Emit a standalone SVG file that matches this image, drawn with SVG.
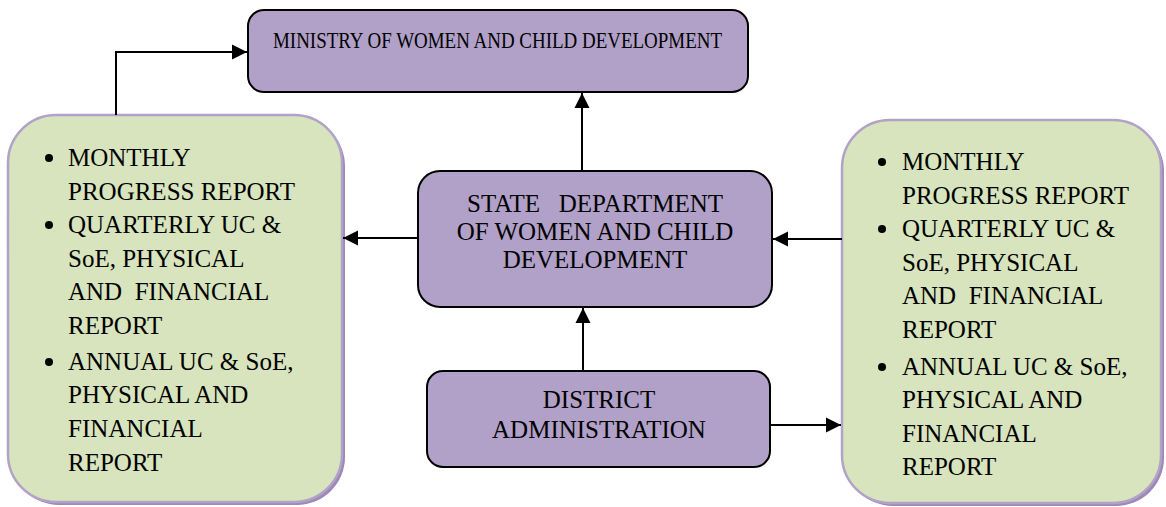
<svg xmlns="http://www.w3.org/2000/svg" width="1166" height="507" viewBox="0 0 1166 507">
<style>
.purple{fill:#b1a0c7;stroke:#000;stroke-width:2}
.green{fill:#d7e4bd;stroke:#b3a2c7;stroke-width:2.5}
.shadow{fill:#9c89b8}
.t{font-family:"Liberation Serif","Times New Roman",serif;font-size:25px;fill:#000;white-space:pre}
.m{font-size:24px}
.c{text-anchor:middle}
.conn{fill:none;stroke:#000;stroke-width:2}
.dot{fill:#000}
</style>
<defs>
<marker id="ah" markerUnits="userSpaceOnUse" markerWidth="16" markerHeight="16" viewBox="0 0 16 16" refX="15" refY="8" orient="auto">
<path d="M0,0.5 L15,8 L0,15.5 Z" fill="#000"/>
</marker>
</defs>
<rect width="1166" height="507" fill="#fff"/>
<g id="ministry">
<rect class="purple" x="248" y="10" width="500" height="82" rx="16"/>
<text class="t m" x="273" y="48" textLength="449" lengthAdjust="spacingAndGlyphs">MINISTRY OF WOMEN AND CHILD DEVELOPMENT</text>
</g>
<g id="left-reports">
<rect class="shadow" x="11" y="118" width="334" height="387" rx="48"/>
<rect class="green" x="8" y="115" width="334" height="387" rx="48"/>
<circle class="dot" cx="49" cy="158" r="4"/>
<circle class="dot" cx="49" cy="225" r="4"/>
<circle class="dot" cx="49" cy="362" r="4"/>
<text class="t" x="68" y="166">MONTHLY</text>
<text class="t" x="68" y="200">PROGRESS REPORT</text>
<text class="t" x="68" y="233">QUARTERLY UC &amp;</text>
<text class="t" x="68" y="267">SoE, PHYSICAL</text>
<text class="t" x="68" y="300">AND  FINANCIAL</text>
<text class="t" x="68" y="334">REPORT</text>
<text class="t" x="68" y="370">ANNUAL UC &amp; SoE,</text>
<text class="t" x="68" y="403">PHYSICAL AND</text>
<text class="t" x="68" y="437">FINANCIAL</text>
<text class="t" x="68" y="471">REPORT</text>
</g>
<g id="state">
<rect class="purple" x="418" y="171" width="354" height="136" rx="22"/>
<text class="t c" x="595" y="212">STATE   DEPARTMENT</text>
<text class="t c" x="595" y="240">OF WOMEN AND CHILD</text>
<text class="t c" x="595" y="268">DEVELOPMENT</text>
</g>
<g id="district">
<rect class="purple" x="427" y="371" width="343" height="96" rx="16"/>
<text class="t c" x="599" y="408">DISTRICT</text>
<text class="t c" x="599" y="438">ADMINISTRATION</text>
</g>
<g id="right-reports">
<rect class="shadow" x="845" y="123" width="319" height="383" rx="48"/>
<rect class="green" x="842" y="120" width="319" height="383" rx="48"/>
<circle class="dot" cx="882" cy="162" r="4"/>
<circle class="dot" cx="882" cy="229" r="4"/>
<circle class="dot" cx="882" cy="367" r="4"/>
<text class="t" x="902" y="170">MONTHLY</text>
<text class="t" x="902" y="204">PROGRESS REPORT</text>
<text class="t" x="902" y="237">QUARTERLY UC &amp;</text>
<text class="t" x="902" y="271">SoE, PHYSICAL</text>
<text class="t" x="902" y="304">AND  FINANCIAL</text>
<text class="t" x="902" y="338">REPORT</text>
<text class="t" x="902" y="375">ANNUAL UC &amp; SoE,</text>
<text class="t" x="902" y="408">PHYSICAL AND</text>
<text class="t" x="902" y="442">FINANCIAL</text>
<text class="t" x="902" y="475">REPORT</text>
</g>
<g id="connectors">
<path class="conn" d="M116,115 V52 H247" marker-end="url(#ah)"/>
<path class="conn" d="M582,171 V93" marker-end="url(#ah)"/>
<path class="conn" d="M418,238 H343" marker-end="url(#ah)"/>
<path class="conn" d="M842,239 H773" marker-end="url(#ah)"/>
<path class="conn" d="M583,371 V308" marker-end="url(#ah)"/>
<path class="conn" d="M770,425 H841" marker-end="url(#ah)"/>
</g>
</svg>
